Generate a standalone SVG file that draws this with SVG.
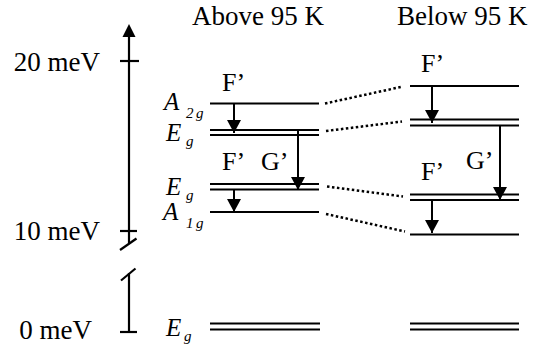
<svg xmlns="http://www.w3.org/2000/svg" width="538" height="348" viewBox="0 0 538 348">
<style>
text{fill:#000}
.t{font-size:27px}
.f{font-size:26px}
.lv{font-size:25px;font-style:italic}
.sb{font-size:15px;font-style:italic}
.lvl{stroke:#000;stroke-width:2.2;fill:none}
.ax{stroke:#000;stroke-width:2.2;fill:none}
.arr{stroke:#000;stroke-width:2;fill:none;marker-end:url(#ah)}
.dot{stroke:#000;stroke-width:2.5;stroke-dasharray:2.5 2.5;fill:none}
</style>
<defs>
<marker id="ah" markerUnits="userSpaceOnUse" viewBox="0 0 13 14" markerWidth="13" markerHeight="14" refX="13" refY="7" orient="auto">
<path d="M0,0 L13,7 L0,14 z" fill="#000"/>
</marker>
</defs>
<g font-family="Liberation Serif, serif">
<g id="titles">
<text class="t" x="192" y="25">Above 95 K</text>
<text class="t" x="397" y="25">Below 95 K</text>
</g>

<g id="axis">
<line class="ax" x1="129" y1="36" x2="129" y2="243"/>
<path d="M122.5,37 L129,24 L135.5,37 z" fill="#000"/>
<line class="ax" x1="120" y1="61" x2="139" y2="61"/>
<line class="ax" x1="120" y1="231" x2="137" y2="231"/>
<line class="ax" x1="120" y1="250" x2="136.5" y2="238.5"/>
<line class="ax" x1="121" y1="280.5" x2="135.5" y2="268.5"/>
<line class="ax" x1="129" y1="273" x2="129" y2="332"/>
<line class="ax" x1="120" y1="332" x2="137" y2="332"/>
<text class="t" x="100" y="71" text-anchor="end">20 meV</text>
<text class="t" x="100" y="240" text-anchor="end">10 meV</text>
<text class="t" x="92" y="339" text-anchor="end">0 meV</text>
</g>

<g id="A2g-above">
<line class="lvl" x1="210" y1="103.5" x2="319" y2="103.5"/>
<text class="lv" x="164" y="110">A</text>
<text class="sb" x="186" y="118">2</text>
<text class="sb" x="196" y="118">g</text>
</g>
<g id="Eg-upper-above">
<line class="lvl" x1="210" y1="130" x2="319" y2="130"/>
<line class="lvl" x1="210" y1="135" x2="319" y2="135"/>
<text class="lv" x="166" y="141">E</text>
<text class="sb" x="186" y="146">g</text>
</g>
<g id="Eg-lower-above">
<line class="lvl" x1="210" y1="184" x2="319" y2="184"/>
<line class="lvl" x1="210" y1="189.5" x2="319" y2="189.5"/>
<text class="lv" x="166" y="195">E</text>
<text class="sb" x="186" y="200">g</text>
</g>
<g id="A1g-above">
<line class="lvl" x1="210" y1="212" x2="319" y2="212"/>
<text class="lv" x="163" y="220">A</text>
<text class="sb" x="186" y="228">1</text>
<text class="sb" x="196" y="228">g</text>
</g>
<g id="Eg-ground-above">
<line class="lvl" x1="210" y1="323.5" x2="320" y2="323.5"/>
<line class="lvl" x1="210" y1="329.5" x2="320" y2="329.5"/>
<text class="lv" x="166" y="336">E</text>
<text class="sb" x="184" y="341">g</text>
</g>

<g id="A2g-below">
<line class="lvl" x1="410" y1="86" x2="519" y2="86"/>
</g>
<g id="Eg-upper-below">
<line class="lvl" x1="410" y1="119.5" x2="519" y2="119.5"/>
<line class="lvl" x1="410" y1="125.5" x2="519" y2="125.5"/>
</g>
<g id="Eg-lower-below">
<line class="lvl" x1="410" y1="194.5" x2="519" y2="194.5"/>
<line class="lvl" x1="410" y1="200" x2="519" y2="200"/>
</g>
<g id="A1g-below">
<line class="lvl" x1="410" y1="234.5" x2="519" y2="234.5"/>
</g>
<g id="Eg-ground-below">
<line class="lvl" x1="410" y1="323.5" x2="519" y2="323.5"/>
<line class="lvl" x1="410" y1="329.5" x2="519" y2="329.5"/>
</g>

<g id="connectors">
<line class="dot" x1="325" y1="103.5" x2="403" y2="86.5"/>
<line class="dot" x1="326" y1="131" x2="402" y2="121.5"/>
<line class="dot" x1="327" y1="186.5" x2="403" y2="196.5"/>
<line class="dot" x1="326" y1="214" x2="405" y2="231.5"/>
<line class="arr" x1="234" y1="104" x2="234" y2="133"/>
<line class="arr" x1="298" y1="130" x2="298" y2="190"/>
<line class="arr" x1="234" y1="189.5" x2="234" y2="212"/>
<line class="arr" x1="432" y1="86" x2="432" y2="123"/>
<line class="arr" x1="500" y1="125" x2="500" y2="200"/>
<line class="arr" x1="432" y1="200" x2="432" y2="233"/>
<text class="f" x="222" y="91">F’</text>
<text class="f" x="222" y="170">F’</text>
<text class="f" x="261" y="170">G’</text>
<text class="f" x="421" y="72">F’</text>
<text class="f" x="421" y="180">F’</text>
<text class="f" x="466" y="169">G’</text>
</g>
</g>
</svg>
